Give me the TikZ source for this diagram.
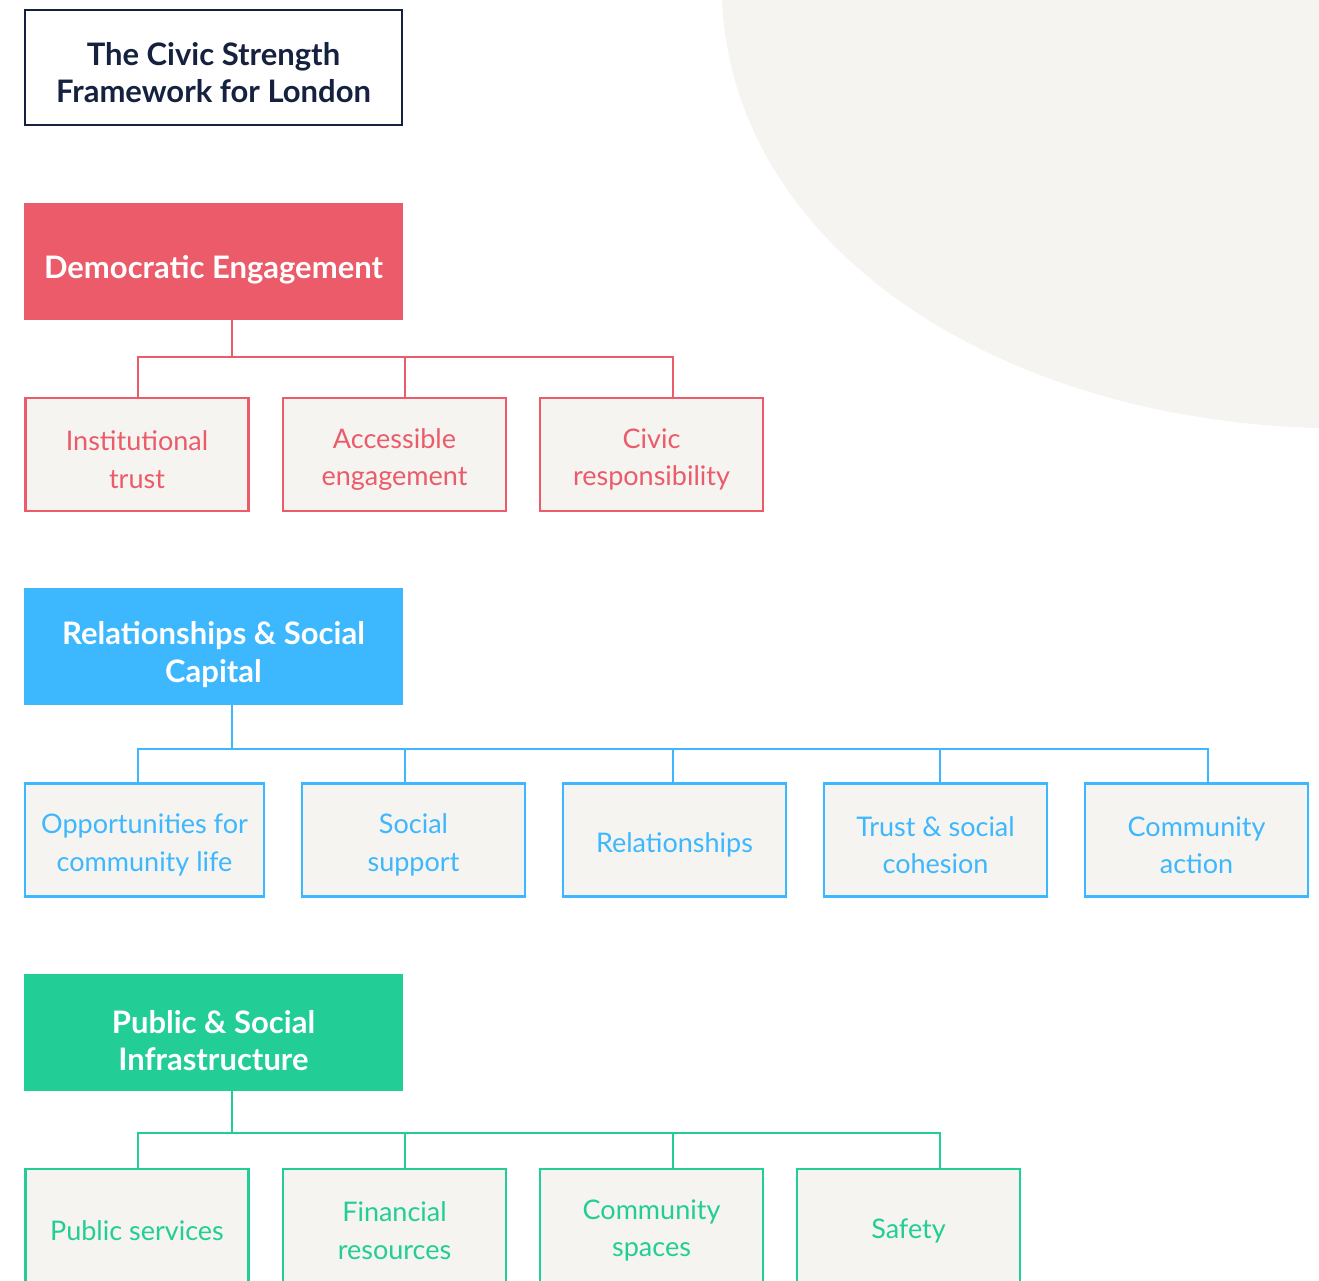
\documentclass[tikz,border=0pt]{standalone}
\usepackage{fontspec}
\setmainfont{Lato}
\definecolor{navy}{HTML}{15213F}
\definecolor{demred}{HTML}{EB5B6A}
\definecolor{relblue}{HTML}{3DB7FE}
\definecolor{infgreen}{HTML}{22CE96}
\definecolor{paper}{HTML}{F5F4F0}

\begin{document}
\begin{tikzpicture} [x=1pt, y=-1pt,
	every node/.style = {shape=rectangle, align=flush center, inner sep=0pt},
	headbox/.style = {fill=#1, text=white, font=\fontsize{31}{37.5}\selectfont\bfseries,
		text width=370pt, minimum width=379pt, minimum height=117pt,
		execute at begin node={\rule{0pt}{39pt}}},
	itembox/.style = {draw=#1, line width=2.5pt, fill=paper, text=#1,
		font=\fontsize{27}{37.5}\selectfont, text width=215pt, minimum width=223pt, minimum height=113pt,
		execute at begin node={\rule{0pt}{30pt}}},
	link/.style = {draw=#1, line width=2.5pt}]
			\useasboundingbox (0,0) rectangle (1319,1281);
			\clip (0,0) rectangle (1319,1281);
			\fill [paper] (722,0) .. controls (733,250) and (1000,420) .. (1319,428) -- (1319,0) -- cycle;

			\node (title) [draw=navy, line width=2.5pt, text=navy, font=\fontsize{31}{37}\selectfont\bfseries,
				text width=370pt, minimum width=377pt, minimum height=115pt,
				execute at begin node={\rule{0pt}{33pt}}]
				at (213.5,67.5) {The Civic Strength\\Framework for London};

			% democratic engagement
			\node (demo) [headbox=demred] at (213.5,261.5) {Democratic Engagement};
			\node (trust) [itembox=demred] at (137,454.5) {Institutional\\trust};
			\node (access) [itembox=demred] at (394.5,454.5) {Accessible\\engagement};
			\node (civic) [itembox=demred] at (651.5,454.5) {Civic\\responsibility};
			\coordinate (demojoin) at (232,357);
			\draw [link=demred] (demo.south -| demojoin) -- (demojoin);
			\foreach \child/\x in {trust/138, access/405, civic/673}
				\draw [link=demred] (demojoin) -| (\child.north -| \x,0);

			% relationships and social capital
			\node (rel) [headbox=relblue] at (213.5,646.5) {Relationships \& Social\\Capital};
			\node (opps) [itembox=relblue, minimum width=239pt] at (144.5,840) {Opportunities for\\community life};
			\node (support) [itembox=relblue] at (413.5,840) {Social\\support};
			\node (ships) [itembox=relblue] at (674.5,840) {Relationships};
			\node (cohesion) [itembox=relblue] at (935.5,840) {Trust \& social\\cohesion};
			\node (action) [itembox=relblue] at (1196.5,840) {Community\\action};
			\coordinate (reljoin) at (232,749);
			\draw [link=relblue] (rel.south -| reljoin) -- (reljoin);
			\foreach \child/\x in {opps/138, support/405, ships/673, cohesion/940, action/1208}
				\draw [link=relblue] (reljoin) -| (\child.north -| \x,0);

			% public and social infrastructure
			\node (infra) [headbox=infgreen] at (213.5,1032.5) {Public \& Social\\Infrastructure};
			\node (services) [itembox=infgreen] at (137,1225.5) {Public services};
			\node (money) [itembox=infgreen] at (394.5,1225.5) {Financial\\resources};
			\node (spaces) [itembox=infgreen] at (651.5,1225.5) {Community\\spaces};
			\node (safety) [itembox=infgreen] at (908.5,1225.5) {Safety};
			\coordinate (infjoin) at (232,1133);
			\draw [link=infgreen] (infra.south -| infjoin) -- (infjoin);
			\foreach \child/\x in {services/138, money/405, spaces/673, safety/940}
				\draw [link=infgreen] (infjoin) -| (\child.north -| \x,0);
		\end{tikzpicture}
\end{document}
